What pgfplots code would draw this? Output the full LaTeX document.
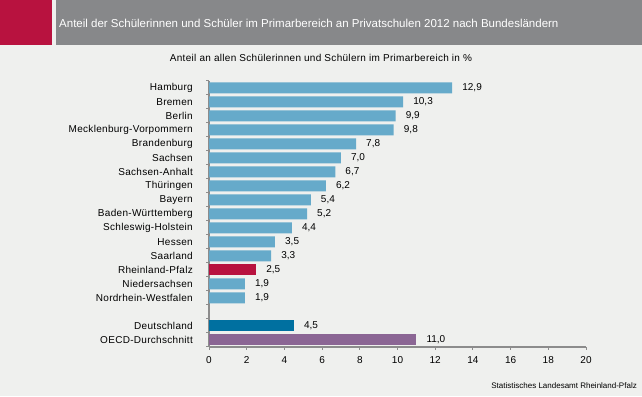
\documentclass[border=0pt]{standalone}
\usepackage{fontspec}
\setmainfont{Liberation Sans}
\newfontfamily\labfont[LetterSpace=3]{Liberation Sans}
\usepackage{pgfplots}
\pgfplotsset{compat=1.18}
\definecolor{bg}{HTML}{EFF0EE}
\definecolor{crim}{HTML}{B8123F}
\definecolor{hgrey}{HTML}{87888A}
\definecolor{lblue}{HTML}{66AACA}
\definecolor{dblue}{HTML}{0070A0}
\definecolor{purp}{HTML}{8B6694}
\definecolor{axgrey}{HTML}{8C8C8C}
\begin{document}
\begin{tikzpicture}[x=1pt,y=1pt]
\fill[bg] (0,0) rectangle (642,396);
\fill[crim] (0,351) rectangle (52,396);
\fill[hgrey] (56,351) rectangle (642,396);
\node[anchor=west, text=white, font=\fontsize{11.5}{13}\selectfont, inner sep=0pt] at (59,373) {Anteil der Schülerinnen und Schüler im Primarbereich an Privatschulen 2012 nach Bundesländern};
\node[font=\labfont\fontsize{10}{12}\selectfont, inner sep=0pt] at (321,338) {Anteil an allen Schülerinnen und Schülern im Primarbereich in \%};
\node[anchor=east, font=\fontsize{8}{9}\selectfont, inner sep=0pt] at (637,10) {Statistisches Landesamt Rheinland-Pfalz};
\begin{axis}[
  at={(209pt,49pt)}, anchor=south west,
  scale only axis, width=377pt, height=266pt,
  xmin=0, xmax=20, ymin=-0.5, ymax=18.5,
  xbar, bar width=11pt, bar shift=0pt,
  axis x line*=bottom, axis y line*=left,
  axis line style={axgrey, line width=1.3pt, -},
  xtick={0,2,...,20},
  tick align=outside,
  major tick length=3pt,
  x tick style={axgrey, line width=1pt},
  ytick={0,...,18},
  yticklabels={OECD-Durchschnitt,Deutschland,{},Nordrhein-Westfalen,Niedersachsen,Rheinland-Pfalz,Saarland,Hessen,Schleswig-Holstein,Baden-Württemberg,Bayern,Thüringen,Sachsen-Anhalt,Sachsen,Brandenburg,Mecklenburg-Vorpommern,Berlin,Bremen,Hamburg},
  y tick style={draw=none},
  minor ytick={-0.5,0.5,...,18.5},
  minor y tick style={axgrey, line width=1pt, draw=axgrey},
  minor tick length=3pt,
  /pgf/number format/assume math mode=true,
  xticklabel style={font=\fontsize{10}{12}\selectfont, inner sep=0pt, yshift=-6pt},
  yticklabel style={font=\labfont\fontsize{10}{12}\selectfont, inner sep=0pt, xshift=-13pt},
  point meta=x,
  nodes near coords={\pgfmathprintnumber[fixed,fixed zerofill,precision=1,use comma]{\pgfplotspointmeta}},
  nodes near coords style={anchor=west, inner sep=0pt, xshift=10pt, font=\fontsize{10}{12}\selectfont, text=black},
  clip=false,
]
\addplot[fill=lblue, draw=none] coordinates {
(12.9,18) (10.3,17) (9.9,16) (9.8,15) (7.8,14) (7.0,13) (6.7,12) (6.2,11)
(5.4,10) (5.2,9) (4.4,8) (3.5,7) (3.3,6) (1.9,4) (1.9,3)};
\addplot[fill=crim, draw=none] coordinates {(2.5,5)};
\addplot[fill=dblue, draw=none] coordinates {(4.5,1)};
\addplot[fill=purp, draw=none] coordinates {(11.0,0)};
\end{axis}
\end{tikzpicture}
\end{document}
